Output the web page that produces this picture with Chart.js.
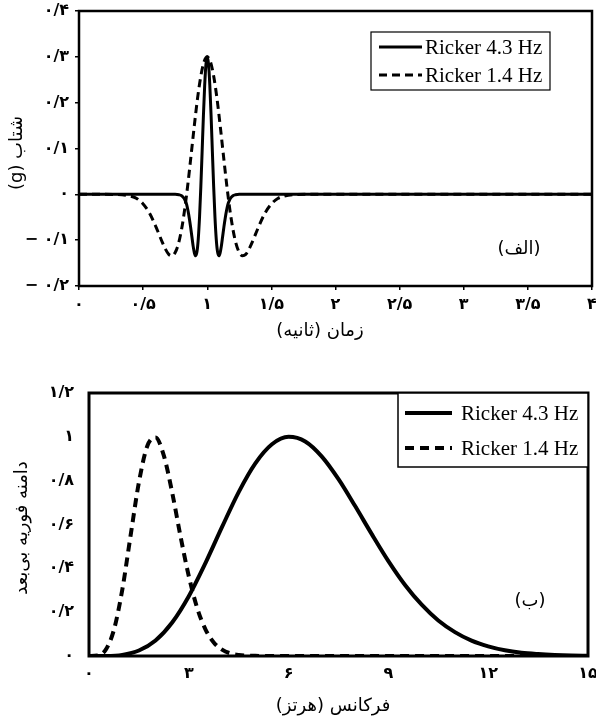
<!DOCTYPE html>
<html>
<head>
<meta charset="utf-8">
<script src="https://cdn.jsdelivr.net/npm/chart.js@4.4.1/dist/chart.umd.min.js"></script>
<style>
  html, body { margin: 0; padding: 0; background: #fff; }
  #wrap { position: relative; width: 596px; height: 722px; }
  canvas { position: absolute; left: 0; }
  #timeChart { top: 0; }
  #specChart { top: 370px; }
</style>
</head>
<body>
<div id="wrap">
  <canvas id="timeChart" width="596" height="350"></canvas>
  <canvas id="specChart" width="596" height="352"></canvas>
</div>
<script>
// ---- (الف) acceleration time histories ----
const seriesLabels = ["Ricker 4.3 Hz", "Ricker 1.4 Hz"]

const timeSec43 = [0, 0.5, 0.75, 0.78, 0.8, 0.82, 0.83, 0.84, 0.85, 0.86, 0.87, 0.88, 0.89, 0.9, 0.91, 0.92, 0.93, 0.94, 0.95, 0.96, 0.97, 0.98, 0.99, 1,
  1.01, 1.02, 1.03, 1.04, 1.05, 1.06, 1.07, 1.08, 1.09, 1.1, 1.11, 1.12, 1.13, 1.14, 1.15, 1.16, 1.17, 1.18, 1.2, 1.22, 1.25, 1.5, 2, 2.5, 3, 3.5, 4]
const accel43 = [0, 0, 0, -0.001, -0.003, -0.009, -0.015, -0.023, -0.036, -0.052, -0.071, -0.092, -0.113, -0.128, -0.134, -0.125, -0.097, -0.049, 0.017, 0.093, 0.171, 0.238, 0.284, 0.3,
  0.284, 0.238, 0.171, 0.093, 0.017, -0.049, -0.097, -0.125, -0.134, -0.128, -0.113, -0.092, -0.071, -0.052, -0.036, -0.023, -0.015, -0.009, -0.003, -0.001, 0, 0, 0, 0, 0, 0, 0]

const timeSec14 = [0, 0.2, 0.3, 0.4, 0.45, 0.5, 0.55, 0.6, 0.625, 0.65, 0.675, 0.7, 0.725, 0.75, 0.775, 0.8, 0.825, 0.85, 0.875, 0.9, 0.925, 0.95, 0.975, 1,
  1.025, 1.05, 1.075, 1.1, 1.125, 1.15, 1.175, 1.2, 1.225, 1.25, 1.275, 1.3, 1.325, 1.35, 1.375, 1.4, 1.45, 1.5, 1.55, 1.6, 1.7, 1.8, 2, 2.5, 3, 3.5, 4]
const accel14 = [0, 0, -0.0004, -0.004, -0.009, -0.021, -0.041, -0.071, -0.088, -0.105, -0.12, -0.131, -0.134, -0.127, -0.108, -0.076, -0.031, 0.025, 0.088, 0.152, 0.211, 0.258, 0.289, 0.3,
  0.289, 0.258, 0.211, 0.152, 0.088, 0.025, -0.031, -0.076, -0.108, -0.127, -0.134, -0.131, -0.12, -0.105, -0.088, -0.071, -0.041, -0.021, -0.009, -0.004, -0.0004, 0, 0, 0, 0, 0, 0]

const timeTickValues = [0, 0.5, 1, 1.5, 2, 2.5, 3, 3.5, 4]
const timeTickLabels = ["۰", "۰/۵", "۱", "۱/۵", "۲", "۲/۵", "۳", "۳/۵", "۴"]
const accelTickValues = [-0.2, -0.1, 0, 0.1, 0.2, 0.3, 0.4]
const accelTickLabels = ["− ۰/۲", "− ۰/۱", "۰", "۰/۱", "۰/۲", "۰/۳", "۰/۴"]

// ---- (ب) normalised Fourier amplitude ----
const freqHz43 = [0, 0.5, 1, 1.5, 2, 2.5, 3, 3.5, 4, 4.5, 5, 5.5, 6, 6.5, 7, 7.5, 8, 8.5, 9, 9.5, 10, 10.5, 11, 11.5, 12, 12.5, 13, 13.5, 14, 14.5, 15]
const amp43 = [0, 0.0003, 0.005, 0.025, 0.071, 0.153, 0.273, 0.424, 0.589, 0.748, 0.879, 0.966, 1.0, 0.979, 0.91, 0.807, 0.684, 0.556, 0.433, 0.324, 0.234, 0.162, 0.109, 0.07, 0.044, 0.026, 0.015, 0.009, 0.005, 0.0025, 0.0013]

const freqHz14 = [0, 0.25, 0.5, 0.75, 1, 1.25, 1.5, 1.75, 2, 2.25, 2.5, 2.75, 3, 3.25, 3.5, 3.75, 4, 4.25, 4.5, 5, 6, 8, 10, 12, 15]
const amp14 = [0, 0.002, 0.028, 0.12, 0.302, 0.549, 0.792, 0.957, 0.997, 0.914, 0.746, 0.547, 0.364, 0.22, 0.122, 0.062, 0.029, 0.012, 0.005, 0.0006, 0, 0, 0, 0, 0]

const freqTickValues = [0, 3, 6, 9, 12, 15]
const freqTickLabels = ["۰", "۳", "۶", "۹", "۱۲", "۱۵"]
const ampTickValues = [0, 0.2, 0.4, 0.6, 0.8, 1, 1.2]
const ampTickLabels = ["۰", "۰/۲", "۰/۴", "۰/۶", "۰/۸", "۱", "۱/۲"]

const FA = "'DejaVu Sans', sans-serif"
const TICK_FONT = { family: FA, size: 16, weight: "bold" }

function pairs(xs, ys) {
  return xs.map((x, i) => ({ x: x, y: ys[i] }))
}

function fixedTicks(values) {
  return (scale) => {
    scale.ticks = values.map((v) => ({ value: v }))
  }
}

// frame, legend, panel tag and axis titles
const decor = {
  id: "decor",
  afterDatasetsDraw(chart, args, o) {
    const ctx = chart.ctx
    const a = chart.chartArea
    ctx.save()
    ctx.strokeStyle = "#000"
    ctx.fillStyle = "#000"
    ctx.lineWidth = o.frame
    ctx.strokeRect(a.left, a.top, a.right - a.left, a.bottom - a.top)

    // legend
    const lg = o.legend
    ctx.fillStyle = "#fff"
    ctx.fillRect(lg.x, lg.y, lg.w, lg.h)
    ctx.lineWidth = lg.border
    ctx.strokeRect(lg.x, lg.y, lg.w, lg.h)
    ctx.fillStyle = "#000"
    ctx.font = lg.font
    ctx.textAlign = "left"
    ctx.textBaseline = "middle"
    ctx.direction = "ltr"
    chart.data.datasets.forEach((ds, i) => {
      const y = lg.rows[i]
      ctx.beginPath()
      ctx.setLineDash(ds.borderDash || [])
      ctx.lineWidth = ds.borderWidth
      ctx.moveTo(lg.lineX[0], y)
      ctx.lineTo(lg.lineX[1], y)
      ctx.stroke()
      ctx.setLineDash([])
      ctx.fillText(ds.label, lg.textX, y + 1)
    })

    // persian texts
    ctx.direction = "rtl"
    ctx.textAlign = "center"
    ctx.font = o.tag.font
    ctx.fillText(o.tag.text, o.tag.x, o.tag.y)
    ctx.font = o.xTitle.font
    ctx.fillText(o.xTitle.text, o.xTitle.x, o.xTitle.y)
    ctx.translate(o.yTitle.x, o.yTitle.y)
    ctx.rotate(-Math.PI / 2)
    ctx.font = o.yTitle.font
    ctx.fillText(o.yTitle.text, 0, 0)
    ctx.restore()
  },
}

new Chart(document.getElementById("timeChart"), {
  type: "scatter",
  data: {
    datasets: [
      {
        label: seriesLabels[0],
        data: pairs(timeSec43, accel43),
        showLine: true,
        borderColor: "#000",
        borderWidth: 3,
        pointRadius: 0,
        cubicInterpolationMode: "monotone",
      },
      {
        label: seriesLabels[1],
        data: pairs(timeSec14, accel14),
        showLine: true,
        borderColor: "#000",
        borderWidth: 3,
        borderDash: [8, 5],
        pointRadius: 0,
        cubicInterpolationMode: "monotone",
      },
    ],
  },
  options: {
    responsive: false,
    animation: false,
    layout: { padding: { top: 11, right: 4, left: 0, bottom: 0 } },
    scales: {
      x: {
        type: "linear",
        min: 0,
        max: 4,
        afterBuildTicks: fixedTicks(timeTickValues),
        afterFit: (s) => { s.height = 64; s.paddingLeft = 0; s.paddingRight = 0 },
        border: { display: false },
        grid: { drawOnChartArea: false, drawTicks: true, tickLength: 4, color: "#000", lineWidth: 1.5 },
        ticks: {
          color: "#000",
          padding: 5,
          maxRotation: 0,
          font: TICK_FONT,
          callback: (v, i) => timeTickLabels[i],
        },
      },
      y: {
        min: -0.2,
        max: 0.4,
        afterBuildTicks: fixedTicks(accelTickValues),
        afterFit: (s) => { s.width = 79; s.paddingTop = 0; s.paddingBottom = 0 },
        border: { display: false },
        grid: { drawOnChartArea: false, drawTicks: true, tickLength: 4, color: "#000", lineWidth: 1.5 },
        ticks: {
          color: "#000",
          padding: 6,
          font: TICK_FONT,
          callback: (v, i) => accelTickLabels[i],
        },
      },
    },
    plugins: {
      legend: { display: false },
      tooltip: { enabled: false },
      decor: {
        frame: 2.5,
        legend: {
          x: 371, y: 32, w: 179, h: 58, border: 1.2,
          rows: [47, 75], lineX: [379, 422], textX: 425,
          font: "21px 'Liberation Serif', serif",
        },
        tag: { text: "(الف)", x: 519, y: 249, font: "18px " + FA },
        xTitle: { text: "زمان (ثانیه)", x: 320, y: 331, font: "18px " + FA },
        yTitle: { text: "شتاب (g)", x: 17, y: 153, font: "18px " + FA },
      },
    },
  },
  plugins: [decor],
})

new Chart(document.getElementById("specChart"), {
  type: "scatter",
  data: {
    datasets: [
      {
        label: seriesLabels[0],
        data: pairs(freqHz43, amp43),
        showLine: true,
        borderColor: "#000",
        borderWidth: 4,
        pointRadius: 0,
        cubicInterpolationMode: "monotone",
      },
      {
        label: seriesLabels[1],
        data: pairs(freqHz14, amp14),
        showLine: true,
        borderColor: "#000",
        borderWidth: 4,
        borderDash: [9, 6],
        pointRadius: 0,
        cubicInterpolationMode: "monotone",
      },
    ],
  },
  options: {
    responsive: false,
    animation: false,
    layout: { padding: { top: 23, right: 8, left: 0, bottom: 0 } },
    scales: {
      x: {
        type: "linear",
        min: 0,
        max: 15,
        afterBuildTicks: fixedTicks(freqTickValues),
        afterFit: (s) => { s.height = 66; s.paddingLeft = 0; s.paddingRight = 0 },
        border: { display: false },
        grid: { drawOnChartArea: false, drawTicks: false },
        ticks: {
          color: "#000",
          padding: 8,
          maxRotation: 0,
          font: TICK_FONT,
          callback: (v, i) => freqTickLabels[i],
        },
      },
      y: {
        min: 0,
        max: 1.2,
        afterBuildTicks: fixedTicks(ampTickValues),
        afterFit: (s) => { s.width = 89; s.paddingTop = 0; s.paddingBottom = 0 },
        border: { display: false },
        grid: { drawOnChartArea: false, drawTicks: false },
        ticks: {
          color: "#000",
          padding: 15,
          font: TICK_FONT,
          callback: (v, i) => ampTickLabels[i],
        },
      },
    },
    plugins: {
      legend: { display: false },
      tooltip: { enabled: false },
      decor: {
        frame: 3,
        legend: {
          x: 398, y: 23, w: 190, h: 74, border: 1.5,
          rows: [43, 78], lineX: [405, 452], textX: 461,
          font: "21px 'Liberation Serif', serif",
        },
        tag: { text: "(ب)", x: 530, y: 231, font: "18px " + FA },
        xTitle: { text: "فرکانس (هرتز)", x: 333, y: 336, font: "18px " + FA },
        yTitle: { text: "دامنه فوریه بی‌بعد", x: 22, y: 158, font: "18px " + FA },
      },
    },
  },
  plugins: [decor],
})
</script>
</body>
</html>
